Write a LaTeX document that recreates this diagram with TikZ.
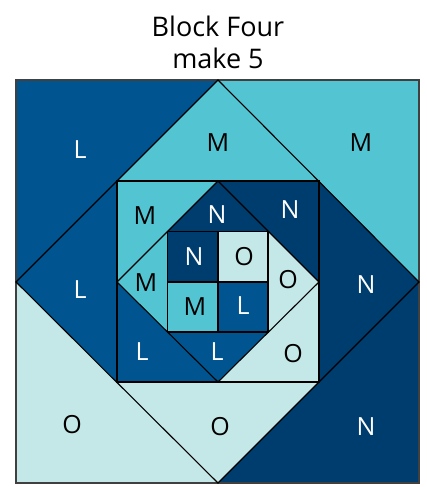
\documentclass[tikz,border=0pt]{standalone}
\usepackage{fontspec}
\setmainfont{Open Sans}
\definecolor{cL}{HTML}{00548F}
\definecolor{cN}{HTML}{003D6F}
\definecolor{cM}{HTML}{53C4D1}
\definecolor{cO}{HTML}{C4E7E7}
\begin{document}
\begin{tikzpicture}[x=1pt,y=-1pt,
  piece/.style={draw=black,line width=1.1pt,line join=miter},
  dk/.style={text=white,font=\fontsize{25}{25}\selectfont},
  lt/.style={text=black,font=\fontsize{25}{25}\selectfont},
  ttl/.style={font=\fontsize{27}{32}\selectfont,align=center}]
\useasboundingbox (0,0) rectangle (426,487);
% outer corners
\fill[cL] (16,80) -- (218,80) -- (16,282) -- cycle;
\fill[cM] (218,80) -- (419,80) -- (419,282) -- cycle;
\fill[cN] (419,282) -- (419,483) -- (218,483) -- cycle;
\fill[cO] (218,483) -- (16,483) -- (16,282) -- cycle;
% diamond 1 to square 2
\fill[cM] (218,80) -- (319,181) -- (117,181) -- cycle;
\fill[cL] (16,282) -- (117,181) -- (117,382) -- cycle;
\fill[cO] (218,483) -- (117,382) -- (319,382) -- cycle;
\fill[cN] (419,282) -- (319,181) -- (319,382) -- cycle;
% square 2 corners
\fill[cM] (117,181) -- (218,181) -- (117,282) -- cycle;
\fill[cN] (218,181) -- (319,181) -- (319,282) -- cycle;
\fill[cO] (319,282) -- (319,382) -- (218,382) -- cycle;
\fill[cL] (218,382) -- (117,382) -- (117,282) -- cycle;
% diamond 2 to square 3
\fill[cN] (218,181) -- (268,231.5) -- (167.5,231.5) -- cycle;
\fill[cM] (117,282) -- (167.5,231.5) -- (167.5,332) -- cycle;
\fill[cL] (218,382) -- (167.5,332) -- (268,332) -- cycle;
\fill[cO] (319,282) -- (268,231.5) -- (268,332) -- cycle;
% inner four
\fill[cN] (167.5,231.5) rectangle (218,282);
\fill[cO] (218,231.5) rectangle (268,282);
\fill[cM] (167.5,282) rectangle (218,332);
\fill[cL] (218,282) rectangle (268,332);
% lines
\draw[piece,draw=black!75] (16,80) rectangle (419,483);
\draw[piece] (218,80) -- (419,282) -- (218,483) -- (16,282) -- cycle;
\draw[piece] (117,181) rectangle (319,382);
\draw[piece] (218,181) -- (319,282) -- (218,382) -- (117,282) -- cycle;
\draw[piece] (167.5,231.5) rectangle (268,332);
\draw[piece] (218,231.5) -- (218,332);
\draw[piece] (167.5,282) -- (268,282);
% labels
\node[ttl] (title) at (218,42) {Block Four\\make 5};
\node[dk] (l1) at (80,150) {L};
\node[lt] (m1) at (218,143) {M};
\node[lt] (m2) at (361,143) {M};
\node[dk] (l2) at (80,290) {L};
\node[dk] (n1) at (366,285) {N};
\node[lt] (o1) at (72,425) {O};
\node[lt] (o2) at (220,427) {O};
\node[dk] (n2) at (366,427) {N};
\node[lt] (m3) at (145,216) {M};
\node[dk] (n3) at (290,210) {N};
\node[lt] (o3) at (293,354) {O};
\node[dk] (l3) at (142,352) {L};
\node[dk] (n4) at (217,215) {N};
\node[lt] (m4) at (146,283) {M};
\node[dk] (l4) at (217,352) {L};
\node[lt] (o4) at (288,280) {O};
\node[dk] (n5) at (194,257) {N};
\node[lt] (o5) at (244,257) {O};
\node[lt] (m5) at (195,307) {M};
\node[dk] (l5) at (243,306) {L};
\end{tikzpicture}
\end{document}
